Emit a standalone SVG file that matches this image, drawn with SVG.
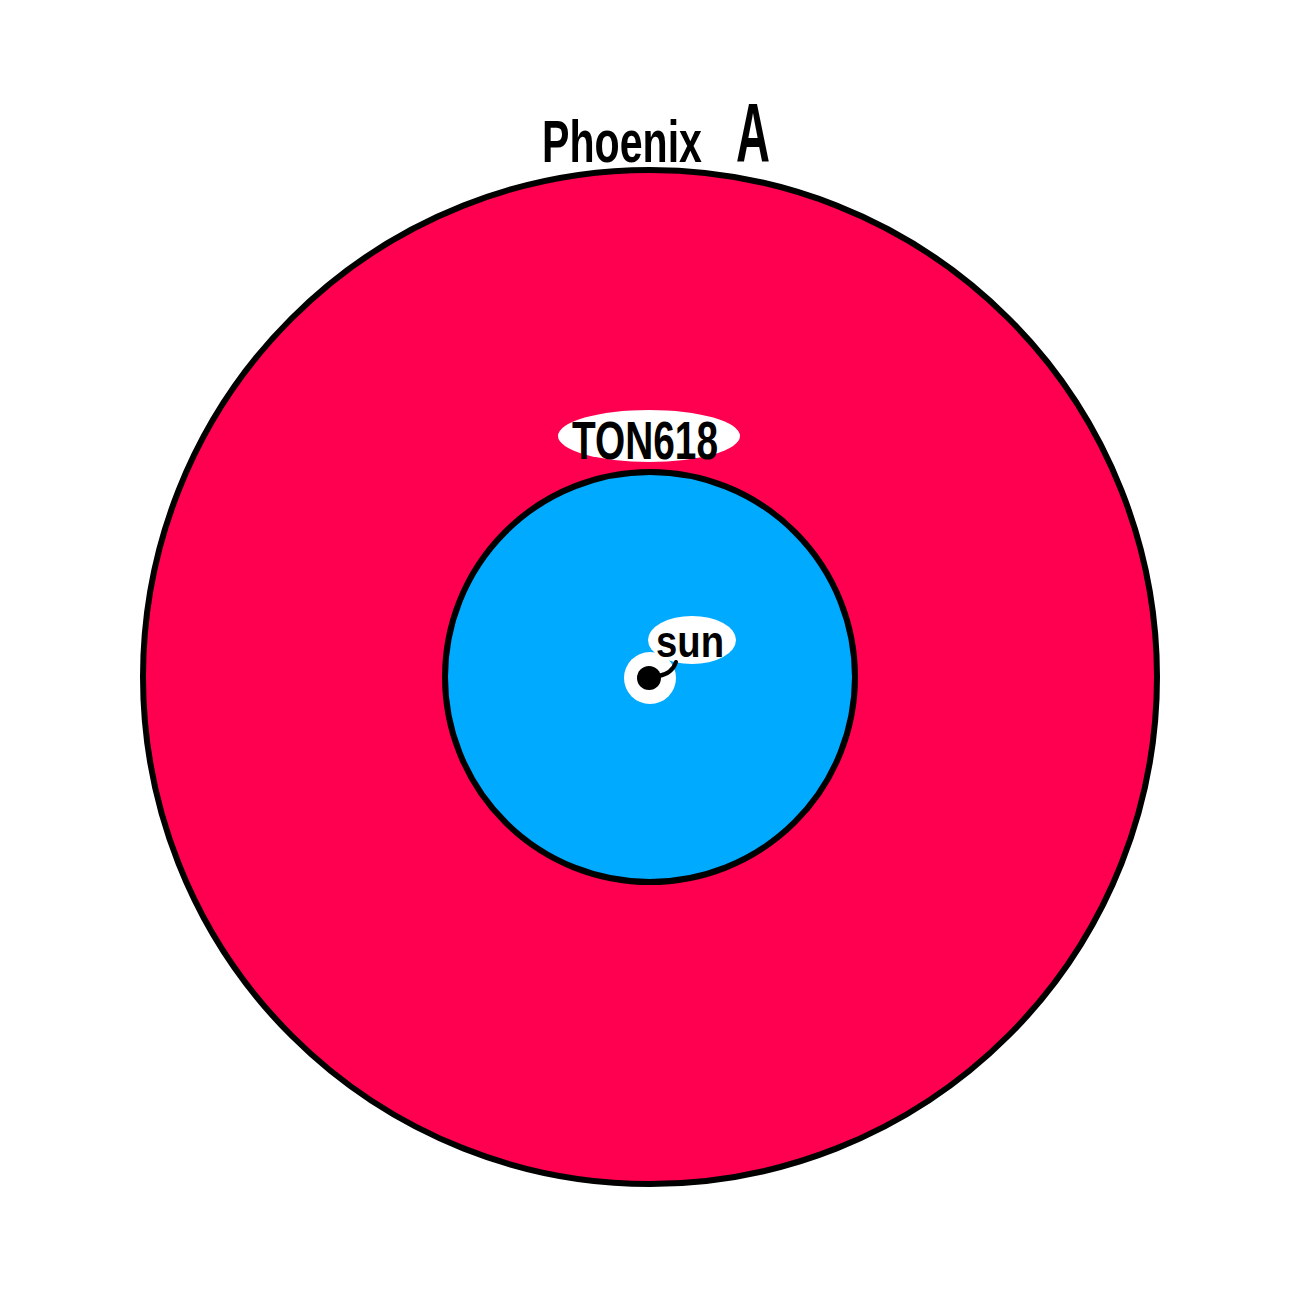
<svg xmlns="http://www.w3.org/2000/svg" width="1300" height="1300" viewBox="0 0 1300 1300">
<style>
.lbl{font-family:"Liberation Sans","DejaVu Sans",sans-serif;font-weight:bold;fill:#000}
.ring{stroke:#000;stroke-width:6}
.bubble{fill:#fff}
</style>
<rect width="1300" height="1300" fill="#fff"/>
<g id="phoenix-a">
<circle class="ring" cx="650" cy="677" r="507" fill="#ff0050"/>
<text class="lbl" x="542" y="162" font-size="48" textLength="160" lengthAdjust="spacingAndGlyphs" transform="translate(0,162) scale(1,1.25) translate(0,-162)">Phoenix</text>
<text class="lbl" x="736" y="162" font-size="84" font-weight="normal" textLength="34" lengthAdjust="spacingAndGlyphs">A</text>
</g>
<g id="ton618">
<circle class="ring" cx="650" cy="677" r="205" fill="#00aaff"/>
<ellipse class="bubble" cx="649" cy="436" rx="91" ry="26"/>
<text class="lbl" x="572" y="459" font-size="54" textLength="146" lengthAdjust="spacingAndGlyphs">TON618</text>
</g>
<g id="sun">
<circle class="bubble" cx="650" cy="678" r="26"/>
<ellipse class="bubble" cx="692" cy="640" rx="44" ry="24"/>
<circle cx="649" cy="678" r="12" fill="#000"/>
<path d="M658 676 Q672 674 676 662" fill="none" stroke="#000" stroke-width="4" stroke-linecap="round"/>
<text class="lbl" x="656" y="657" font-size="44" textLength="68" lengthAdjust="spacingAndGlyphs">sun</text>
</g>
</svg>
